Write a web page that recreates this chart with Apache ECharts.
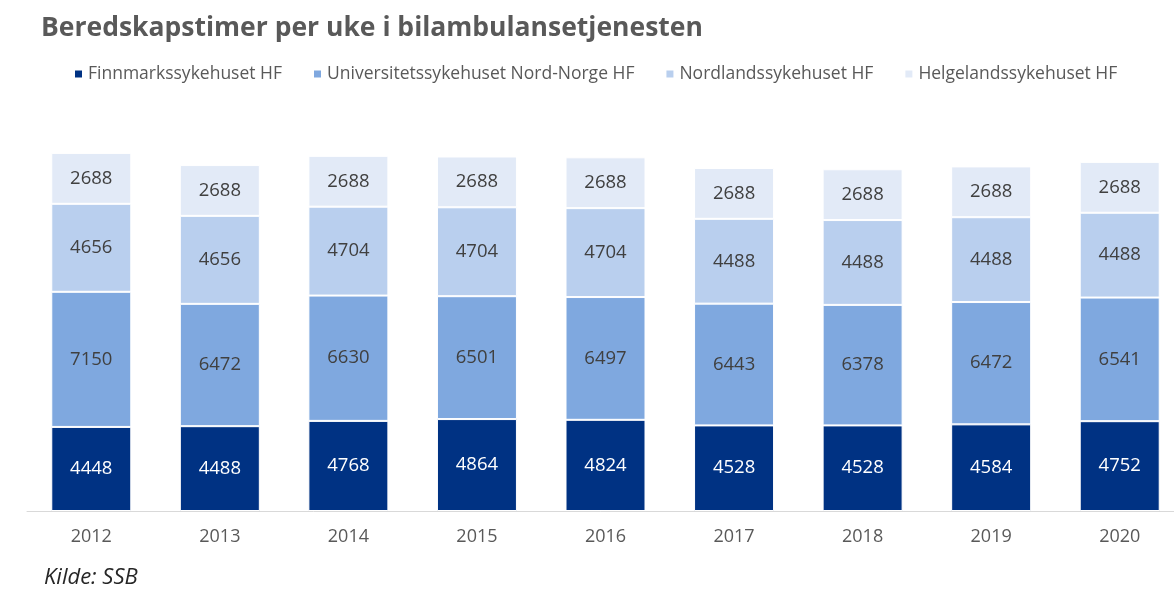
<!DOCTYPE html>
<html>
<head>
<meta charset="utf-8">
<script src="https://cdn.jsdelivr.net/npm/echarts@6/dist/echarts.min.js"></script>
<style>
  html, body { margin: 0; padding: 0; background: #fff; }
  #main { width: 1174px; height: 592px; }
</style>
</head>
<body>
<div id="main"></div>
<script>
// data
var years = ['2012', '2013', '2014', '2015', '2016', '2017', '2018', '2019', '2020'];
var finnmark = [4448, 4488, 4768, 4864, 4824, 4528, 4528, 4584, 4752];
var unn = [7150, 6472, 6630, 6501, 6497, 6443, 6378, 6472, 6541];
var nordland = [4656, 4656, 4704, 4704, 4704, 4488, 4488, 4488, 4488];
var helgeland = [2688, 2688, 2688, 2688, 2688, 2688, 2688, 2688, 2688];

var seriesNames = ['Finnmarkssykehuset HF', 'Universitetssykehuset Nord-Norge HF', 'Nordlandssykehuset HF', 'Helgelandssykehuset HF'];
var colors = ['#003283', '#7fa8df', '#b9cfee', '#e2eaf7'];

var fontFam = '"Open Sans", "Noto Sans", sans-serif';

var chart = echarts.init(document.getElementById('main'));

function mkSeries(name, values, color, labelColor) {
  return {
    name: name,
    type: 'bar',
    stack: 'total',
    barWidth: 80,
    data: values,
    itemStyle: { color: color, borderColor: '#fff', borderWidth: 1 },
    label: {
      show: true,
      position: 'inside',
      color: labelColor,
      fontSize: 18.5,
      fontFamily: fontFam
    }
  };
}

var option = {
  animation: false,
  color: colors,
  title: {
    text: 'Beredskapstimer per uke i bilambulansetjenesten',
    left: 36,
    top: 10,
    textStyle: { color: '#595959', fontSize: 26.5, fontWeight: 'bold', fontFamily: fontFam }
  },
  legend: {
    data: seriesNames,
    left: 68,
    top: 60,
    icon: 'rect',
    itemWidth: 9,
    itemHeight: 9,
    itemGap: 30,
    textStyle: { color: '#595959', fontSize: 17.5, fontFamily: fontFam }
  },
  graphic: [{
    type: 'text',
    left: 44,
    top: 567,
    style: {
      text: 'Kilde: SSB',
      fill: '#262626',
      font: 'italic 22px ' + fontFam
    }
  }],
  grid: { left: 27, top: 133, width: 1157, height: 378, outerBoundsMode: 'none', containLabel: false },
  xAxis: {
    type: 'category',
    data: years,
    axisLine: { lineStyle: { color: '#d9d9d9', width: 1 } },
    axisTick: { show: false },
    axisLabel: { color: '#595959', fontSize: 18, margin: 17, fontFamily: fontFam }
  },
  yAxis: {
    type: 'value',
    min: 0,
    max: 20000,
    show: false,
    splitLine: { show: false }
  },
  series: [
    mkSeries(seriesNames[0], finnmark, colors[0], '#ffffff'),
    mkSeries(seriesNames[1], unn, colors[1], '#404040'),
    mkSeries(seriesNames[2], nordland, colors[2], '#404040'),
    mkSeries(seriesNames[3], helgeland, colors[3], '#404040')
  ]
};

chart.setOption(option);
</script>
</body>
</html>
